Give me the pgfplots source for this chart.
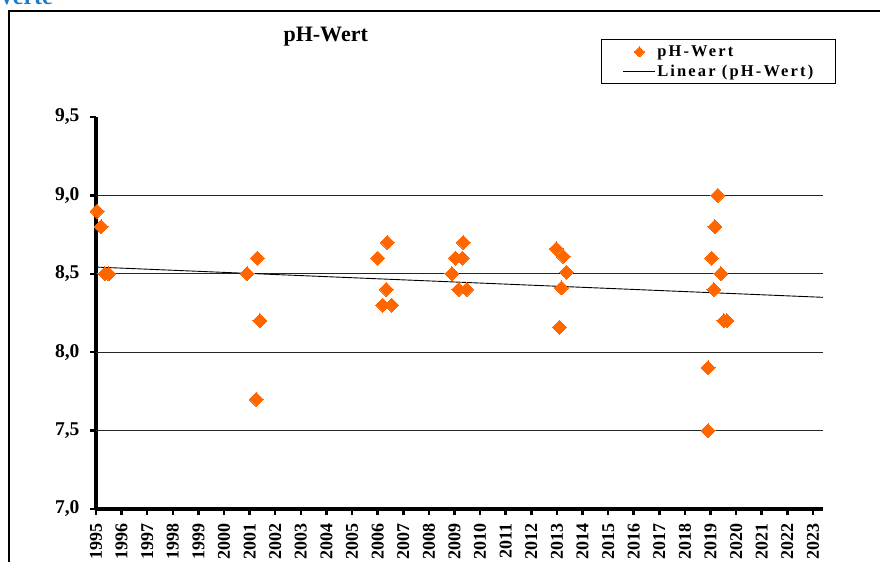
\documentclass[border=0pt]{standalone}
\usepackage{fontspec}
\setmainfont{Liberation Serif}
\usepackage{pgfplots}
\pgfplotsset{compat=1.18}
\definecolor{phorange}{HTML}{FF6600}
\definecolor{headblue}{HTML}{1F7BC4}

\begin{document}
\begin{tikzpicture}
\path[use as bounding box] (0,0) rectangle (880pt,-562pt);
% cut-off heading of the page and chart frame
\node[anchor=base east, inner sep=0pt, text=headblue,
      font=\fontsize{24}{26}\selectfont\bfseries] at (53pt,-5pt) {Werte};
\draw[line width=1.3pt] (9pt,-562pt) -- (9pt,-11pt) -- (880pt,-11pt);

\begin{axis}[
    at={(96pt,-509pt)}, anchor=south west,
    scale only axis, width=727pt, height=392pt,
    xmin=1995, xmax=2023.39, ymin=7, ymax=9.5,
    axis x line=bottom, axis y line=left,
    axis line style={-, line width=4pt, black},
    xtick={1995,...,2023}, ytick={7,7.5,8,8.5,9,9.5},
    tick align=outside, major tick length=6pt,
    tick style={line width=2.5pt, black},
    extra y ticks={7.5,8,8.5,9}, extra y tick labels={},
    extra y tick style={grid=major, major tick length=0pt},
    grid style={black!85, line width=0.9pt},
    /pgf/number format/assume math mode=true,
    xticklabel style={rotate=90, anchor=east, xshift=-5pt,
        font=\fontsize{18}{20}\selectfont\bfseries,
        /pgf/number format/1000 sep={}},
    yticklabel style={xshift=-7pt, font=\fontsize{19.5}{21}\selectfont\bfseries,
        /pgf/number format/.cd, fixed, fixed zerofill, precision=1, use comma},
    clip=false,
    title={pH-Wert},
    title style={at={(0.316,1.189)}, anchor=center,
        font=\fontsize{22}{24}\selectfont\bfseries},
    legend style={at={(0.695,1.199)}, anchor=north west,
        draw=black, line width=1.2pt, inner xsep=21pt, inner ysep=4.5pt,
        font=\fontsize{16.5}{18}\selectfont\bfseries\addfontfeature{LetterSpace=13},
        nodes={inner sep=1.5pt}, row sep=4pt},
    legend cell align=left,
]
\addplot[only marks, mark=square*, mark size=4.95pt,
    mark options={rotate=45, fill=phorange, draw=phorange, line width=0pt},
    legend image code/.code={\draw[mark=square*, mark size=3.5pt,
        mark options={rotate=45, fill=phorange, draw=phorange, line width=0pt}]
        plot coordinates {(16pt,0pt)};}]
coordinates {
    (1995.04,8.9) (1995.20,8.8) (1995.35,8.5) (1995.50,8.5)
    (2000.90,8.5) (2001.25,7.7) (2001.30,8.6) (2001.40,8.2)
    (2006.00,8.6) (2006.20,8.3) (2006.34,8.4) (2006.38,8.7) (2006.55,8.3)
    (2008.90,8.5) (2009.03,8.6) (2009.16,8.4) (2009.30,8.6) (2009.34,8.7) (2009.47,8.4)
    (2012.98,8.66) (2013.10,8.16) (2013.18,8.41) (2013.25,8.61) (2013.37,8.51)
    (2018.90,7.9) (2018.90,7.5) (2019.05,8.6) (2019.13,8.4) (2019.17,8.8)
    (2019.28,9.0) (2019.40,8.5) (2019.52,8.2) (2019.64,8.2)
};
\addlegendentry{pH-Wert}
\addplot[black, line width=0.9pt,
    legend image code/.code={\draw[black, line width=0.9pt] (0pt,0pt) -- (32pt,0pt);}]
coordinates {(1995,8.543) (2023.39,8.350)};
\addlegendentry{Linear (pH-Wert)}
\end{axis}
\end{tikzpicture}
\end{document}
